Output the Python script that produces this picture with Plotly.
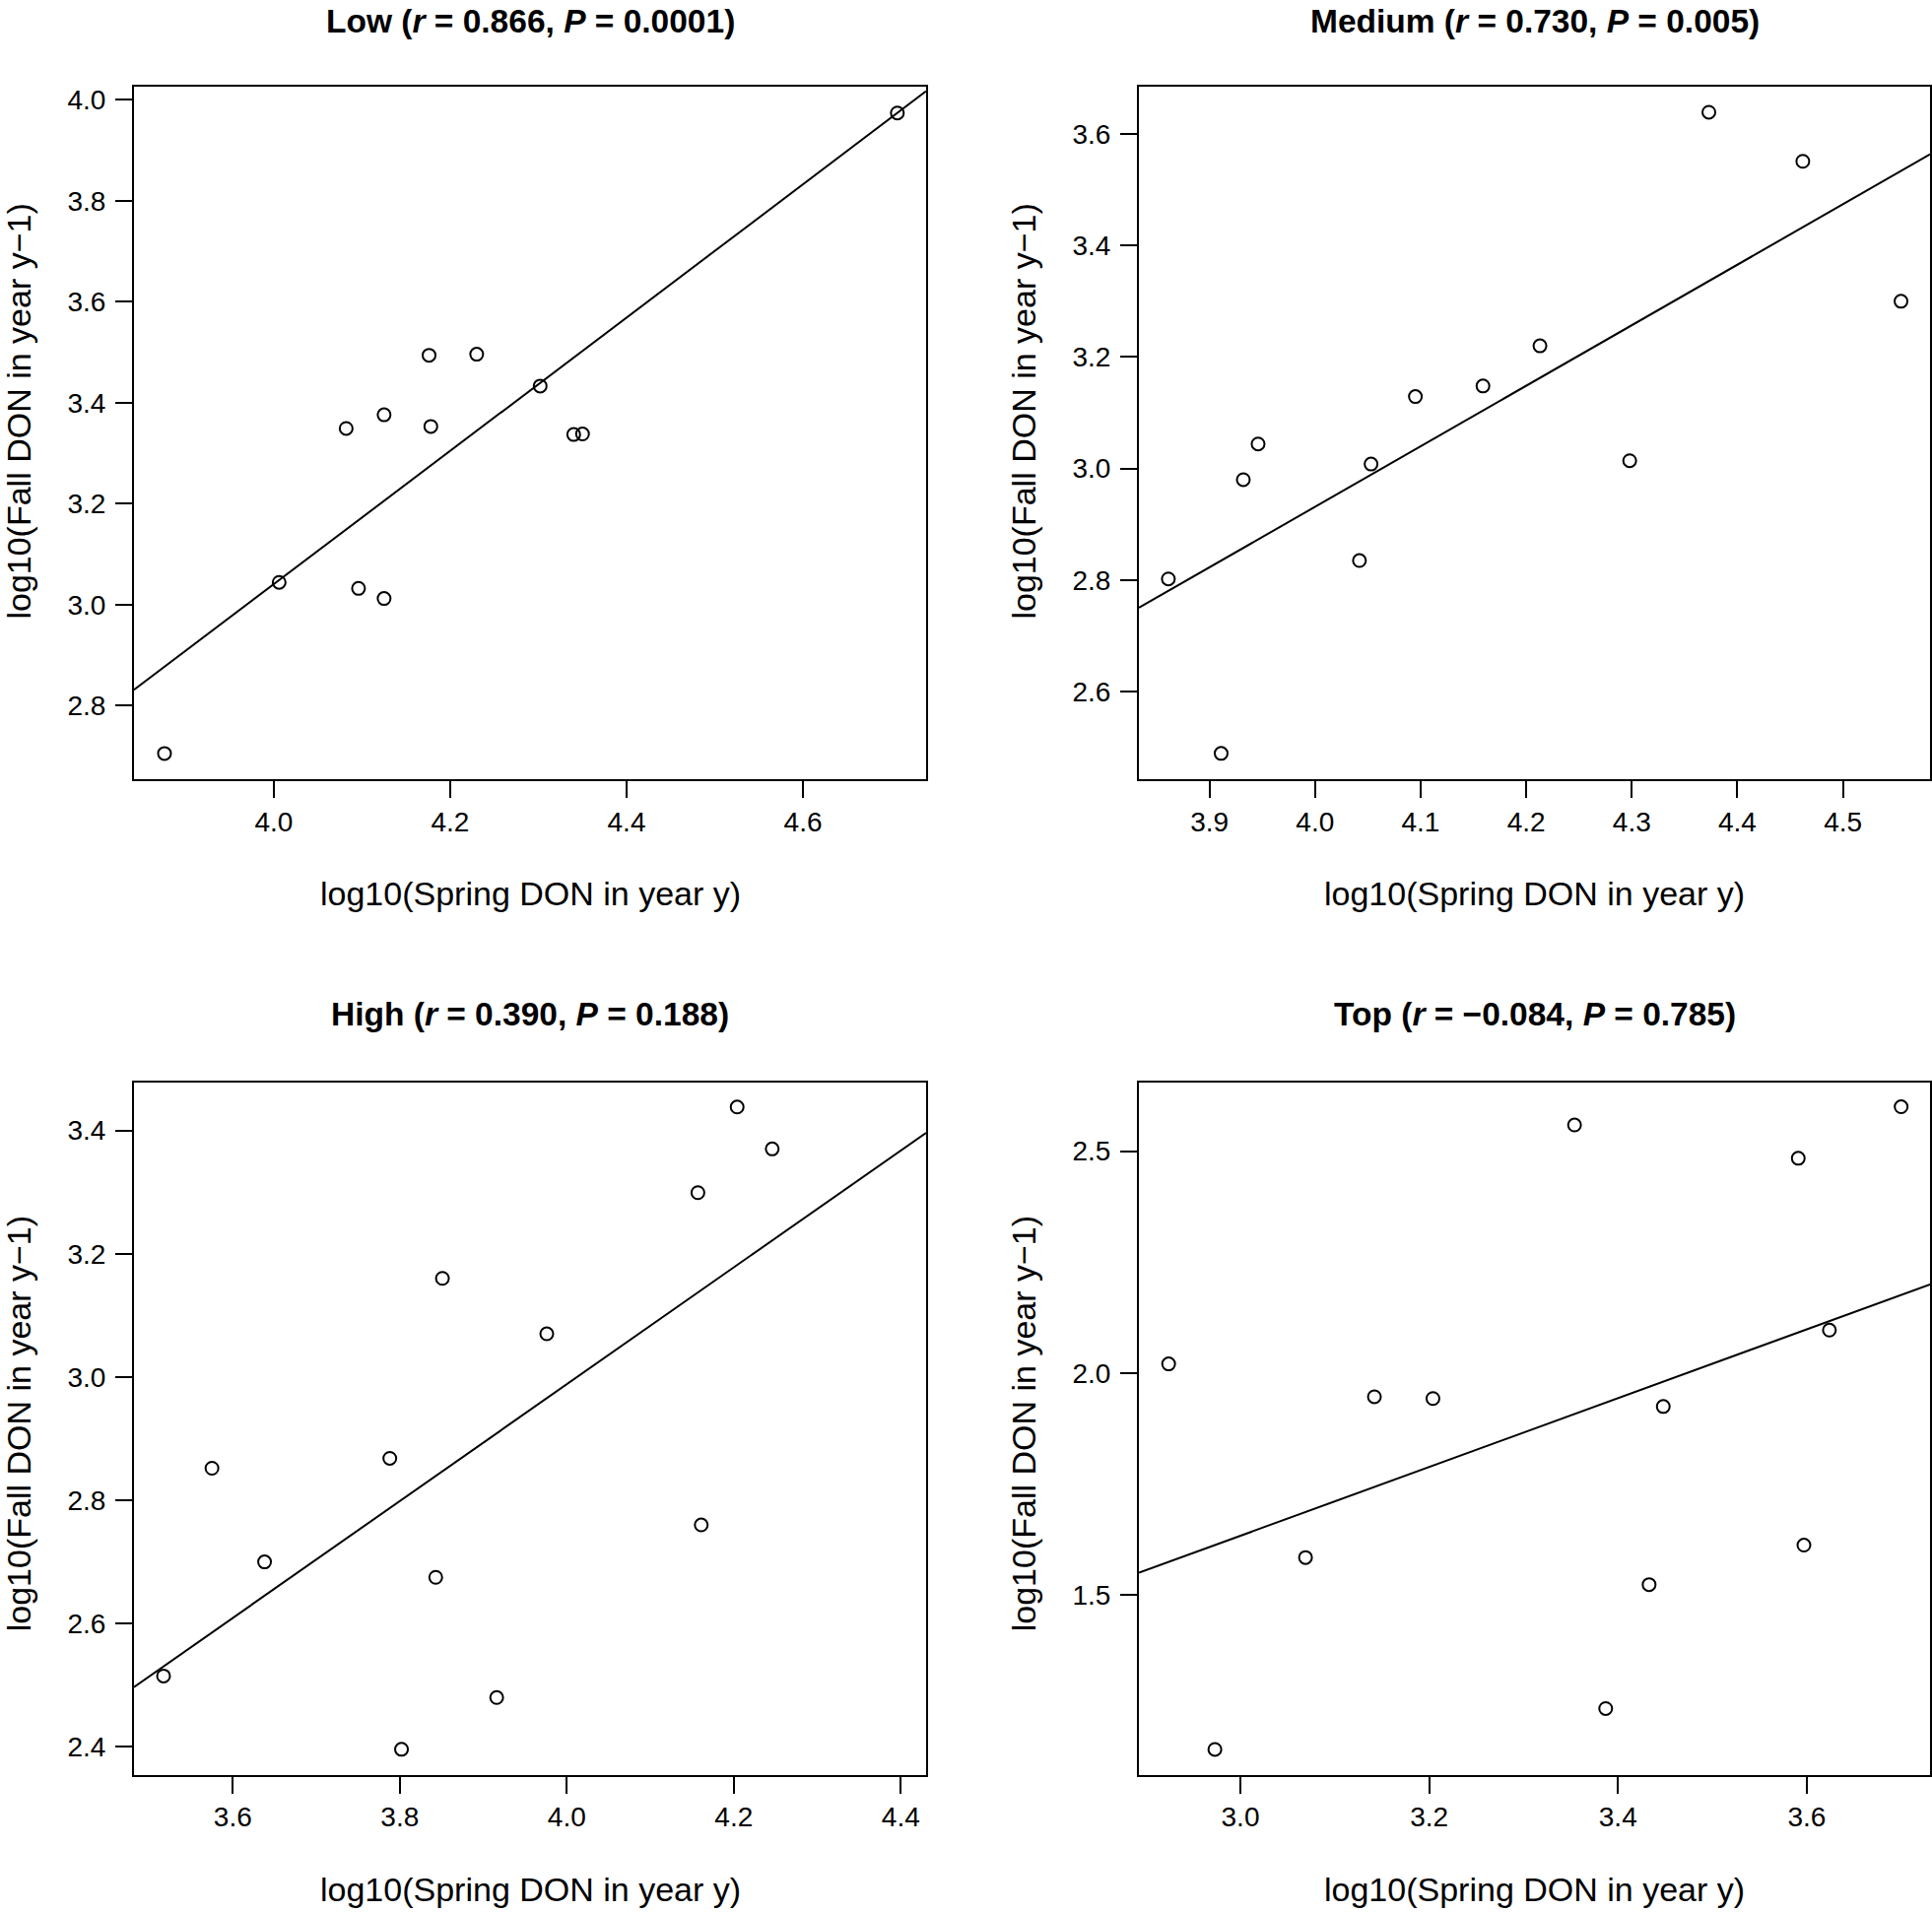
import plotly.graph_objects as go

# ---------------- data ----------------
panel_names = ["Low", "Medium", "High", "Top"]
panel_r = ["0.866", "0.730", "0.390", "\u22120.084"]
panel_p = ["0.0001", "0.005", "0.188", "0.785"]

low_x = [3.876, 4.006, 4.082, 4.096, 4.125, 4.125, 4.176, 4.178, 4.230, 4.302, 4.340, 4.350, 4.707]
low_y = [2.705, 3.044, 3.349, 3.032, 3.376, 3.012, 3.494, 3.353, 3.496, 3.433, 3.337, 3.338, 3.974]

medium_x = [3.861, 3.911, 3.932, 3.946, 4.042, 4.053, 4.095, 4.159, 4.213, 4.298, 4.373, 4.462, 4.555]
medium_y = [2.802, 2.489, 2.980, 3.044, 2.835, 3.008, 3.129, 3.148, 3.220, 3.014, 3.639, 3.551, 3.300]

high_x = [3.517, 3.575, 3.638, 3.788, 3.802, 3.843, 3.851, 3.916, 3.976, 4.157, 4.161, 4.204, 4.246]
high_y = [2.515, 2.852, 2.700, 2.868, 2.396, 2.675, 3.160, 2.480, 3.070, 3.299, 2.760, 3.438, 3.370]

top_x = [2.924, 2.973, 3.069, 3.142, 3.204, 3.354, 3.387, 3.433, 3.448, 3.591, 3.597, 3.624, 3.700]
top_y = [2.021, 1.153, 1.585, 1.947, 1.943, 2.559, 1.245, 1.524, 1.925, 2.484, 1.613, 2.097, 2.600]

# fitted lines drawn in the picture (intercept, slope)
fit_intercept = [-2.2415, -1.4102, -0.8029, -0.6901]
fit_slope = [1.3205, 1.0854, 0.9478, 0.7747]

# tick labels
x_ticks = [[4.0, 4.2, 4.4, 4.6],
           [3.9, 4.0, 4.1, 4.2, 4.3, 4.4, 4.5],
           [3.6, 3.8, 4.0, 4.2, 4.4],
           [3.0, 3.2, 3.4, 3.6]]
y_ticks = [[2.8, 3.0, 3.2, 3.4, 3.6, 3.8, 4.0],
           [2.6, 2.8, 3.0, 3.2, 3.4, 3.6],
           [2.4, 2.6, 2.8, 3.0, 3.2, 3.4],
           [1.5, 2.0, 2.5]]

x_label = "log10(Spring DON in year y)"
y_label = "log10(Fall DON in year y\u22121)"

# ---------------- layout config ----------------
W, H = 1961, 1941
FONT = "Liberation Sans, Arial, Helvetica, sans-serif"

xs = [low_x, medium_x, high_x, top_x]
ys = [low_y, medium_y, high_y, top_y]

# axis ranges (plot box extents)
x_ranges = [[3.8414, 4.7396], [3.8331, 4.5825], [3.4816, 4.4303], [2.8925, 3.7306]]
y_ranges = [[2.6537, 4.0263], [2.4425, 3.6850], [2.3548, 3.4778], [1.0960, 2.6547]]

# pixel boxes: left, right, top, bottom
boxes = [(136, 940, 86, 790), (1156, 1959, 86, 790),
         (136, 940, 1098, 1801.5), (1156, 1959, 1098, 1801.5)]
title_gap = [66, 66, 69, 69]
ylab_shift = [-22, -22, -5, -5]

def px(x):
    return x / W

def py(y):
    return 1 - y / H

fig = go.Figure()
annotations = []
layout_axes = {}

for i in range(4):
    ax = "" if i == 0 else str(i + 1)
    xa, ya = "x" + ax, "y" + ax
    l, r, t, b = boxes[i]
    x0, x1 = x_ranges[i]
    fig.add_trace(go.Scatter(
        x=[x0, x1],
        y=[fit_intercept[i] + fit_slope[i] * x0, fit_intercept[i] + fit_slope[i] * x1],
        mode="lines", line=dict(color="black", width=2),
        xaxis=xa, yaxis=ya, showlegend=False, hoverinfo="skip"))
    fig.add_trace(go.Scatter(
        x=xs[i], y=ys[i], mode="markers",
        marker=dict(symbol="circle-open", size=13, color="black", line=dict(width=2)),
        xaxis=xa, yaxis=ya, showlegend=False))

    common = dict(showgrid=False, zeroline=False, showline=True, mirror=True,
                  linecolor="black", linewidth=2, ticks="outside", ticklen=17,
                  tickwidth=2, tickcolor="black", tickformat=".1f",
                  tickfont=dict(family=FONT, size=28, color="black"))
    layout_axes["xaxis" + ax] = dict(common, domain=[px(l), px(r)], range=x_ranges[i],
                                     tickvals=x_ticks[i], anchor=ya, ticklabelstandoff=0)
    layout_axes["yaxis" + ax] = dict(common, domain=[py(b), py(t)], range=y_ranges[i],
                                     tickvals=y_ticks[i], anchor=xa, ticklabelstandoff=4)

    cx = (l + r) / 2
    cy = (t + b) / 2
    title = f"<b>{panel_names[i]} (<i>r</i> = {panel_r[i]}, <i>P</i> = {panel_p[i]})</b>"
    annotations.append(dict(text=title, x=px(cx), y=py(t - title_gap[i]), xref="paper", yref="paper",
                            xanchor="center", yanchor="middle", showarrow=False,
                            font=dict(family=FONT, size=33.5, color="black")))
    annotations.append(dict(text=x_label, x=px(cx), y=py(b + 116), xref="paper", yref="paper",
                            xanchor="center", yanchor="middle", showarrow=False,
                            font=dict(family=FONT, size=34, color="black")))
    annotations.append(dict(text=y_label, x=px(l - 117), y=py(cy + ylab_shift[i]),
                            xref="paper", yref="paper",
                            xanchor="center", yanchor="middle", showarrow=False, textangle=-90,
                            font=dict(family=FONT, size=34, color="black")))

fig.update_layout(width=W, height=H, margin=dict(l=0, r=0, t=0, b=0),
                  paper_bgcolor="white", plot_bgcolor="white",
                  annotations=annotations, **layout_axes)

fig.write_html("out.html",
               config={"displayModeBar": False},
               post_script="document.body.style.margin='0px';"
                           "document.body.style.overflow='hidden';")
